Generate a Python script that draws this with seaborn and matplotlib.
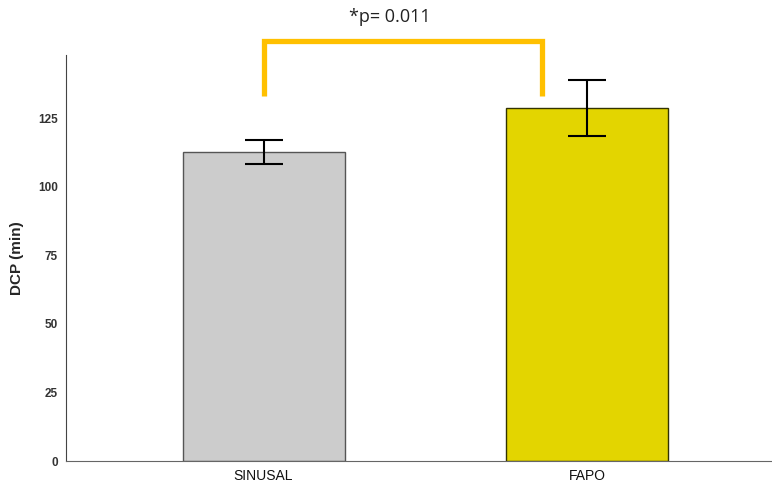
import matplotlib
matplotlib.use('Agg')
import matplotlib.pyplot as plt
import seaborn as sns
import pandas as pd

groups = ['SINUSAL', 'FAPO']
dcp_mean = [112.6, 128.8]
dcp_err = [4.3, 10.2]
bar_colors = ['#CCCCCC', '#E3D500']
edge_colors = ['#555555', '#333300']

# bracket over the bars (x in category units, y in data units)
bracket_x = [0.0, 0.0, 0.86, 0.86]
bracket_y = [133, 153.3, 153.3, 133]
p_text = '*p= 0.011'

sns.set_style('white')
plt.rcParams['font.family'] = 'sans-serif'
plt.rcParams['font.sans-serif'] = ['Liberation Sans', 'DejaVu Sans']

df = pd.DataFrame({'grupo': groups, 'DCP': dcp_mean})

fig = plt.figure(figsize=(7.72, 4.84), dpi=100)
ax = fig.add_axes([0.0855, 0.0475, 0.9145, 0.8385])

sns.barplot(x='grupo', y='DCP', data=df, hue='grupo', palette=bar_colors,
            saturation=1, width=0.5, legend=False, ax=ax, linewidth=1)
for patch, ec in zip(ax.patches, edge_colors):
    patch.set_edgecolor(ec)

ax.errorbar(range(len(groups)), dcp_mean, yerr=dcp_err, fmt='none',
            ecolor='black', elinewidth=1.5, capsize=14, capthick=1.5)

ax.plot(bracket_x, bracket_y, color='#FFC000', lw=3.8, clip_on=False,
        solid_joinstyle='miter', solid_capstyle='butt')
ax.text(0.39, 162, p_text, ha='center', va='center', fontsize=13,
        family=['Open Sans', 'DejaVu Sans'], color='#222222', clip_on=False)

ax.set_xlim(-0.61, 1.57)
ax.set_ylim(0, 148)
ax.set_yticks([0, 25, 50, 75, 100, 125])
ax.set_xlabel('')
ax.set_ylabel('DCP (min)', fontsize=11, fontweight='bold', labelpad=10)
ax.tick_params(axis='y', labelsize=8.5, length=0, pad=6)
ax.tick_params(axis='x', labelsize=10, length=0, pad=6)
for lab in ax.get_yticklabels():
    lab.set_fontweight('bold')
    lab.set_color('#333333')
for lab in ax.get_xticklabels():
    lab.set_color('#111111')

sns.despine(ax=ax, top=True, right=True)
ax.spines['left'].set_color('#444444')
ax.spines['bottom'].set_color('#666666')

fig.savefig('out.png', dpi=100)
